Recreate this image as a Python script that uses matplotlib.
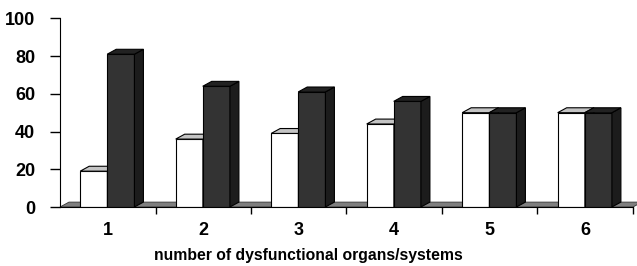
import matplotlib.pyplot as plt
from matplotlib.patches import Polygon

# datos
categorias = ['1', '2', '3', '4', '5', '6']
blancas = [19, 36, 39, 44, 50, 50]
oscuras = [81, 64, 61, 56, 50, 50]

plt.rcParams['font.family'] = ['Liberation Sans', 'DejaVu Sans']
plt.rcParams['font.weight'] = 'bold'

fig = plt.figure(figsize=(6.37, 2.66), dpi=100)
ax = fig.add_axes([0.0942, 0.2218, 0.8995, 0.7092])

x = list(range(1, len(categorias) + 1))
ancho = 0.285
dx = 0.094   # profundidad en x (categorias)
dy = 2.6     # profundidad en y (unidades)

# piso gris
piso = Polygon([(0.5, 0), (6.5, 0), (6.5 + dx, dy), (0.5 + dx, dy)],
               closed=True, facecolor='#7f7f7f', edgecolor='#333333',
               linewidth=0.6, clip_on=False, zorder=1)
ax.add_patch(piso)


def barra3d(xc, h, frente, arriba, lado, z):
    x0 = xc - ancho / 2
    x1 = xc + ancho / 2
    ax.bar(xc, h, width=ancho, color=frente, edgecolor='black',
           linewidth=0.8, zorder=z)
    top = Polygon([(x0, h), (x1, h), (x1 + dx, h + dy), (x0 + dx, h + dy)],
                  facecolor=arriba, edgecolor='black', linewidth=0.8,
                  zorder=z, clip_on=False)
    side = Polygon([(x1, 0), (x1 + dx, dy), (x1 + dx, h + dy), (x1, h)],
                   facecolor=lado, edgecolor='black', linewidth=0.8,
                   zorder=z, clip_on=False)
    ax.add_patch(side)
    ax.add_patch(top)


for i in range(len(x)):
    barra3d(x[i] - 0.146, blancas[i], 'white', '#c4c4c4', '#bdbdbd', 2)
    barra3d(x[i] + 0.137, oscuras[i], '#333333', '#222222', '#1c1c1c', 3)

ax.set_xlim(0.5, 6.5)
ax.set_ylim(0, 100)
ax.set_yticks([0, 20, 40, 60, 80, 100])
ax.tick_params(axis='y', direction='out', length=7, width=1, pad=11,
               labelsize=13)
ax.set_xticks([1.5, 2.5, 3.5, 4.5, 5.5, 6.5])
ax.set_xticklabels([])
ax.tick_params(axis='x', which='major', direction='out', length=5, width=1)
ax.set_xticks(x, minor=True)
ax.set_xticklabels(categorias, minor=True)
ax.tick_params(axis='x', which='minor', length=0, pad=11, labelsize=13)

ax.spines['top'].set_visible(False)
ax.spines['right'].set_visible(False)
ax.spines['left'].set_zorder(5)
ax.spines['bottom'].set_zorder(5)

fig.text(0.484, 0.024, 'number of dysfunctional organs/systems',
         ha='center', va='baseline', fontsize=11.3, fontweight='bold')

fig.savefig('out.png', dpi=100)
